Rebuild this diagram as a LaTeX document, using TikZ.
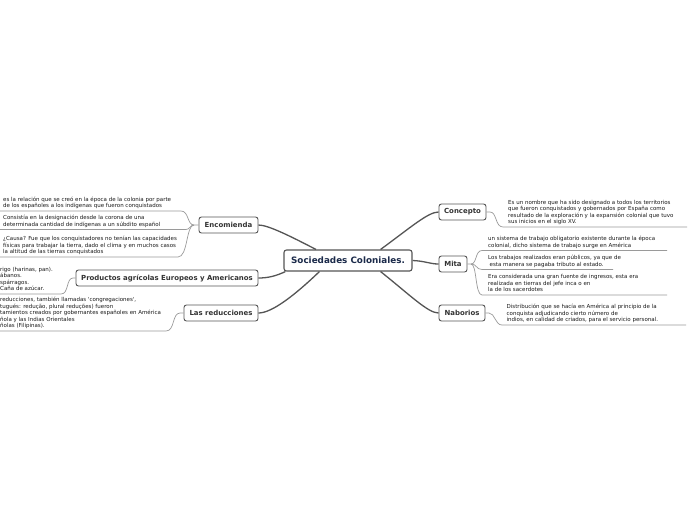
\documentclass[tikz,border=0pt]{standalone}
\usepackage{fontspec}
\setmainfont{DejaVu Sans}
\definecolor{linegray}{HTML}{555555}
\definecolor{leafgray}{HTML}{9A9A9A}
\definecolor{navytext}{HTML}{1B2A4A}
\definecolor{btext}{HTML}{333333}
\definecolor{ltext}{HTML}{1A1A1A}
\newcommand\lz{\rule[-1.4pt]{0pt}{1pt}}
\tikzset{
  central/.style={draw=linegray, line width=1.1pt, rounded corners=2.5pt, fill=white,
    minimum width=128pt, minimum height=21pt, inner sep=0pt,
    font=\fontsize{8.8}{10}\selectfont\bfseries, text=navytext},
  branch/.style={draw=linegray, line width=0.9pt, rounded corners=2.5pt, fill=white,
    minimum height=16pt, inner sep=0pt,
    font=\fontsize{6.95}{8}\selectfont\bfseries, text=btext},
  leaf/.style={font=\fontsize{5.5}{6.6}\selectfont, align=left, text=ltext,
    inner ysep=1.6pt, anchor=south west},
  mainline/.style={draw=linegray, line width=1.3pt},
  leafline/.style={draw=leafgray, line width=0.7pt}
}
\begin{document}
\begin{tikzpicture}[x=1pt,y=-1pt]
\useasboundingbox (0,0) rectangle (696,520);
\clip (0,0) rectangle (696,520);
\fill[white] (0,0) rectangle (696,520);

% main nodes
\node[central] (c) at (348,260.5) {Sociedades Coloniales.};
\node[branch, minimum width=59pt] (enc) at (228.5,225) {Encomienda};
\node[branch, minimum width=182pt] (prod) at (167,278) {Productos agrícolas Europeos y Americanos};
\node[branch, minimum width=74pt] (red) at (221,313) {Las reducciones};
\node[branch, minimum width=47pt] (con) at (462.5,212) {Concepto};
\node[branch, minimum width=28pt] (mita) at (453,264) {Mita};
\node[branch, minimum width=46pt] (nab) at (462,313) {Naborios};

% main connectors
\draw[mainline] ([xshift=-32pt]c.north) .. controls (290,236) and (268,225) .. (enc.east);
\draw[mainline] ([xshift=2pt]c.south west) .. controls (276,276) and (268,278) .. (prod.east);
\draw[mainline] ([xshift=36pt]c.south west) .. controls (295,295) and (272,313) .. (red.east);
\draw[mainline] ([xshift=-32pt]c.north east) .. controls (410,228) and (428,212) .. (con.west);
\draw[mainline] (c.east) .. controls (425,261) and (430,264) .. (mita.west);
\draw[mainline] ([xshift=-32pt]c.south east) .. controls (410,295) and (428,313) .. (nab.west);

% leaves left
\node[leaf, inner xsep=3pt] (e1) at (0,211) {es la relación que se creó en la época de la colonia por parte\\de los españoles a los indígenas que fueron conquistados\lz};
\node[leaf, inner xsep=3pt] (e2) at (0,229.5) {Consistía en la designación desde la corona de una\\determinada cantidad de indígenas a un súbdito español\lz};
\node[leaf, inner xsep=3pt] (e3) at (0,257) {¿Causa? Fue que los conquistadores no tenían las capacidades\\físicas para trabajar la tierra, dado el clima y en muchos casos\\la altitud de las tierras conquistados\lz};
\node[leaf, inner xsep=0pt] (p1) at (0,294) {rigo (harinas, pan).\\ábanos.\\spárragos.\\Caña de azúcar.\lz};
\node[leaf, inner xsep=0pt] (r1) at (0,331) {reducciones, también llamadas \textquotesingle congregaciones\textquotesingle,\\tugués: redução, plural reduções) fueron\\tamientos creados por gobernantes españoles en América\\ñola y las Indias Orientales\\ñolas (Filipinas).\lz};

% leaves right
\node[leaf, inner xsep=5pt] (c1) at (503,227) {Es un nombre que ha sido designado a todos los territorios\\que fueron conquistados y gobernados por España como\\resultado de la exploración y la expansión colonial que tuvo\\sus inicios en el siglo XV.\lz};
\node[leaf, inner xsep=6pt] (m1) at (482,250.5) {un sistema de trabajo obligatorio existente durante la época\\colonial, dicho sistema de trabajo surge en América\lz};
\node[leaf, inner xsep=6pt] (m2) at (482,269.5) {Los trabajos realizados eran públicos, ya que de\\\hspace*{1.5pt}esta manera se pagaba tributo al estado.\lz};
\node[leaf, inner xsep=6pt] (m3) at (482,295) {Era considerada una gran fuente de ingresos, esta era\\realizada en tierras del jefe inca o en\\la de los sacerdotes\lz};
\node[leaf, inner xsep=4.5pt] (n1) at (502,325) {Distribución que se hacía en América al principio de la\\conquista adjudicando cierto número de\\indios, en calidad de criados, para el servicio personal.\lz};

% junctions and underline ends
\coordinate (je) at (194,225);
\coordinate (e1u) at (181,211);
\coordinate (e2u) at (186,229.5);
\coordinate (e3u) at (178,257);
\coordinate (jp) at (73,278);
\coordinate (p1u) at (61,294);
\coordinate (jr) at (180,313);
\coordinate (r1u) at (166,331);
\coordinate (jc) at (490,212);
\coordinate (c1u) at (687,227);
\coordinate (jm) at (471,264);
\coordinate (m1u) at (667,250.5);
\coordinate (m2u) at (613,269.5);
\coordinate (m3u) at (667,295);
\coordinate (jn) at (489,313);
\coordinate (n1u) at (686,325);

% leaf connectors
\draw[leafline] (e1.south west) -- (e1u) .. controls (189,211) and (187,225) .. (je) -- (enc.west);
\draw[leafline] (e2.south west) -- (e2u) .. controls (190,229.5) and (190,225) .. (je);
\draw[leafline] (e3.south west) -- (e3u) .. controls (188,257) and (186,225) .. (je);
\draw[leafline] (p1.south west) -- (p1u) .. controls (69,294) and (66,278) .. (jp) -- (prod.west);
\draw[leafline] (r1.south west) -- (r1u) .. controls (175,331) and (172,313) .. (jr) -- (red.west);
\draw[leafline] (con.east) -- (jc) .. controls (497,212) and (495,227) .. (c1.south west) -- (c1u);
\draw[leafline] (mita.east) -- (jm) .. controls (477,264) and (475,250.5) .. (m1.south west) -- (m1u);
\draw[leafline] (jm) .. controls (477,264) and (476,269.5) .. (m2.south west) -- (m2u);
\draw[leafline] (jm) .. controls (477,264) and (475,295) .. (m3.south west) -- (m3u);
\draw[leafline] (nab.east) -- (jn) .. controls (495,313) and (495,325) .. (n1.south west) -- (n1u);
\end{tikzpicture}
\end{document}
